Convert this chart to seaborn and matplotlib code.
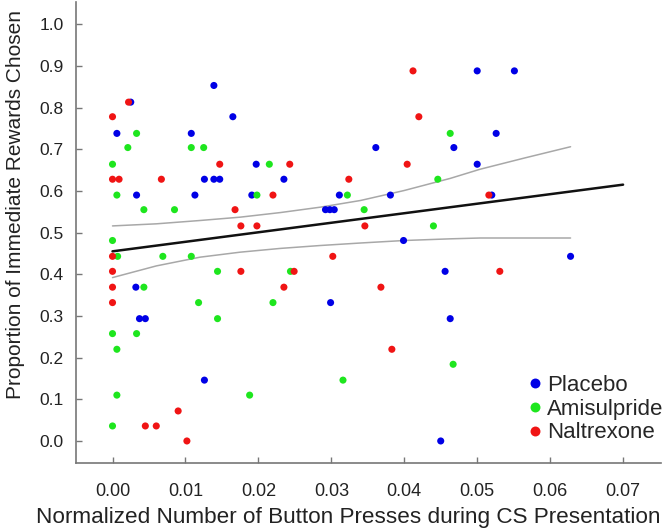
import numpy as np
import pandas as pd
import seaborn as sns
import matplotlib.pyplot as plt

# values
placebo_x = [0.0139, 0.0025, 0.0165, 0.0006, 0.0108, 0.0197, 0.0126, 0.0139, 0.0147, 0.0235,
             0.0033, 0.0113, 0.0191, 0.0500, 0.0551, 0.0526, 0.0361, 0.0468, 0.0500, 0.0520,
             0.0311, 0.0381, 0.0292, 0.0298, 0.0304, 0.0399, 0.0032, 0.0037, 0.0045, 0.0126,
             0.0456, 0.0299, 0.0463, 0.0450, 0.0628]
placebo_y = [0.853, 0.813, 0.778, 0.738, 0.738, 0.664, 0.628, 0.628, 0.628, 0.628,
             0.590, 0.590, 0.590, 0.888, 0.888, 0.738, 0.704, 0.704, 0.664, 0.590,
             0.590, 0.590, 0.555, 0.555, 0.555, 0.481, 0.369, 0.2935, 0.2935, 0.146,
             0.407, 0.332, 0.2935, 0.0, 0.443]

amisulpride_x = [0.0033, 0.0021, 0.0108, 0.0125, 0.0, 0.0215, 0.0006, 0.0198, 0.0043, 0.0085,
                 0.0, 0.0463, 0.0322, 0.0345, 0.0446, 0.0440, 0.0007, 0.0069, 0.0108, 0.0144,
                 0.0244, 0.0043, 0.0118, 0.0220, 0.0144, 0.0, 0.0033, 0.0006, 0.0006, 0.0188,
                 0.0, 0.0467, 0.0316]
amisulpride_y = [0.738, 0.704, 0.704, 0.704, 0.664, 0.664, 0.590, 0.590, 0.555, 0.555,
                 0.481, 0.738, 0.590, 0.555, 0.628, 0.516, 0.443, 0.443, 0.443, 0.407,
                 0.407, 0.369, 0.332, 0.332, 0.2935, 0.2576, 0.2576, 0.220, 0.110, 0.110,
                 0.036, 0.184, 0.146]

naltrexone_x = [0.0022, 0.0, 0.0147, 0.0243, 0.0, 0.0009, 0.0067, 0.0220, 0.0168, 0.0176,
                0.0198, 0.0412, 0.0420, 0.0404, 0.0324, 0.0346, 0.0516, 0.0, 0.0, 0.0176,
                0.0249, 0.0, 0.0235, 0.0, 0.0090, 0.0045, 0.0060, 0.0102, 0.0302, 0.0368,
                0.0383, 0.0531]
naltrexone_y = [0.813, 0.778, 0.664, 0.664, 0.628, 0.628, 0.628, 0.590, 0.555, 0.516,
                0.516, 0.888, 0.778, 0.664, 0.628, 0.516, 0.590, 0.443, 0.407, 0.407,
                0.407, 0.369, 0.369, 0.332, 0.072, 0.036, 0.036, 0.0, 0.443, 0.369,
                0.220, 0.407]

# fitted line and its confidence band
fit_x = [0.0, 0.07]
fit_y = [0.455, 0.615]
band_x = [0.0, 0.006, 0.012, 0.0175, 0.023, 0.0285, 0.034, 0.040, 0.0463, 0.0504, 0.0565, 0.0628]
band_upper = [0.516, 0.521, 0.529, 0.537, 0.548, 0.561, 0.577, 0.601, 0.630, 0.652, 0.679, 0.706]
band_lower = [0.392, 0.420, 0.441, 0.453, 0.462, 0.469, 0.475, 0.481, 0.485, 0.487, 0.487, 0.487]

groups = ["Placebo", "Amisulpride", "Naltrexone"]
colors = ["#0000e6", "#1ee61e", "#f01414"]

df = pd.concat([
    pd.DataFrame({"x": placebo_x, "y": placebo_y, "group": "Placebo"}),
    pd.DataFrame({"x": amisulpride_x, "y": amisulpride_y, "group": "Amisulpride"}),
    pd.DataFrame({"x": naltrexone_x, "y": naltrexone_y, "group": "Naltrexone"}),
])

sns.set_style("white")
plt.rcParams["font.family"] = ["Liberation Sans", "DejaVu Sans"]

fig = plt.figure(figsize=(6.67, 5.28), dpi=100)
ax = fig.add_axes([0.114, 0.123, 0.877, 0.873])

sns.scatterplot(data=df, x="x", y="y", hue="group", hue_order=groups,
                palette=colors, s=26, linewidth=0, ax=ax, zorder=3)

sns.lineplot(x=band_x, y=band_upper, color="#a8a8a8", lw=1.1, ax=ax, zorder=2)
sns.lineplot(x=band_x, y=band_lower, color="#a8a8a8", lw=1.1, ax=ax, zorder=2)
sns.lineplot(x=fit_x, y=fit_y, color="#111111", lw=1.8, ax=ax, zorder=2)

ax.set_xlim(-0.005, 0.0752)
ax.set_ylim(-0.053, 1.053)
ax.set_xticks(np.arange(0, 0.071, 0.01))
ax.set_yticks(np.arange(0, 1.01, 0.1))
ax.set_xticklabels([f"{v:.2f}" for v in np.arange(0, 0.071, 0.01)])
ax.set_yticklabels([f"{v:.1f}" for v in np.arange(0, 1.01, 0.1)])
ax.tick_params(direction="in", length=4, width=1, color="#777777",
               bottom=True, left=True, labelcolor="#222222")
ax.tick_params(axis="x", pad=14, labelsize=13)
ax.tick_params(axis="y", pad=9, labelsize=12.5)

for side in ["top", "right"]:
    ax.spines[side].set_visible(False)
for side in ["left", "bottom"]:
    ax.spines[side].set_color("#777777")
    ax.spines[side].set_linewidth(1.2)

ax.set_xlabel("Normalized Number of Button Presses during CS Presentation",
              fontsize=16.2, color="#222222")
ax.set_ylabel("Proportion of Immediate Rewards Chosen", fontsize=15, color="#222222")
ax.xaxis.set_label_coords(0.465, -0.096)
ax.yaxis.set_label_coords(-0.087, 0.56)

ax.legend(loc="center left", bbox_to_anchor=(516 / 667, 1 - 409 / 528),
          bbox_transform=fig.transFigure, frameon=False, fontsize=16,
          markerscale=1.4, borderpad=0, handlelength=0.7, handletextpad=0.2,
          labelspacing=0.13)

fig.savefig("out.png", dpi=100)
